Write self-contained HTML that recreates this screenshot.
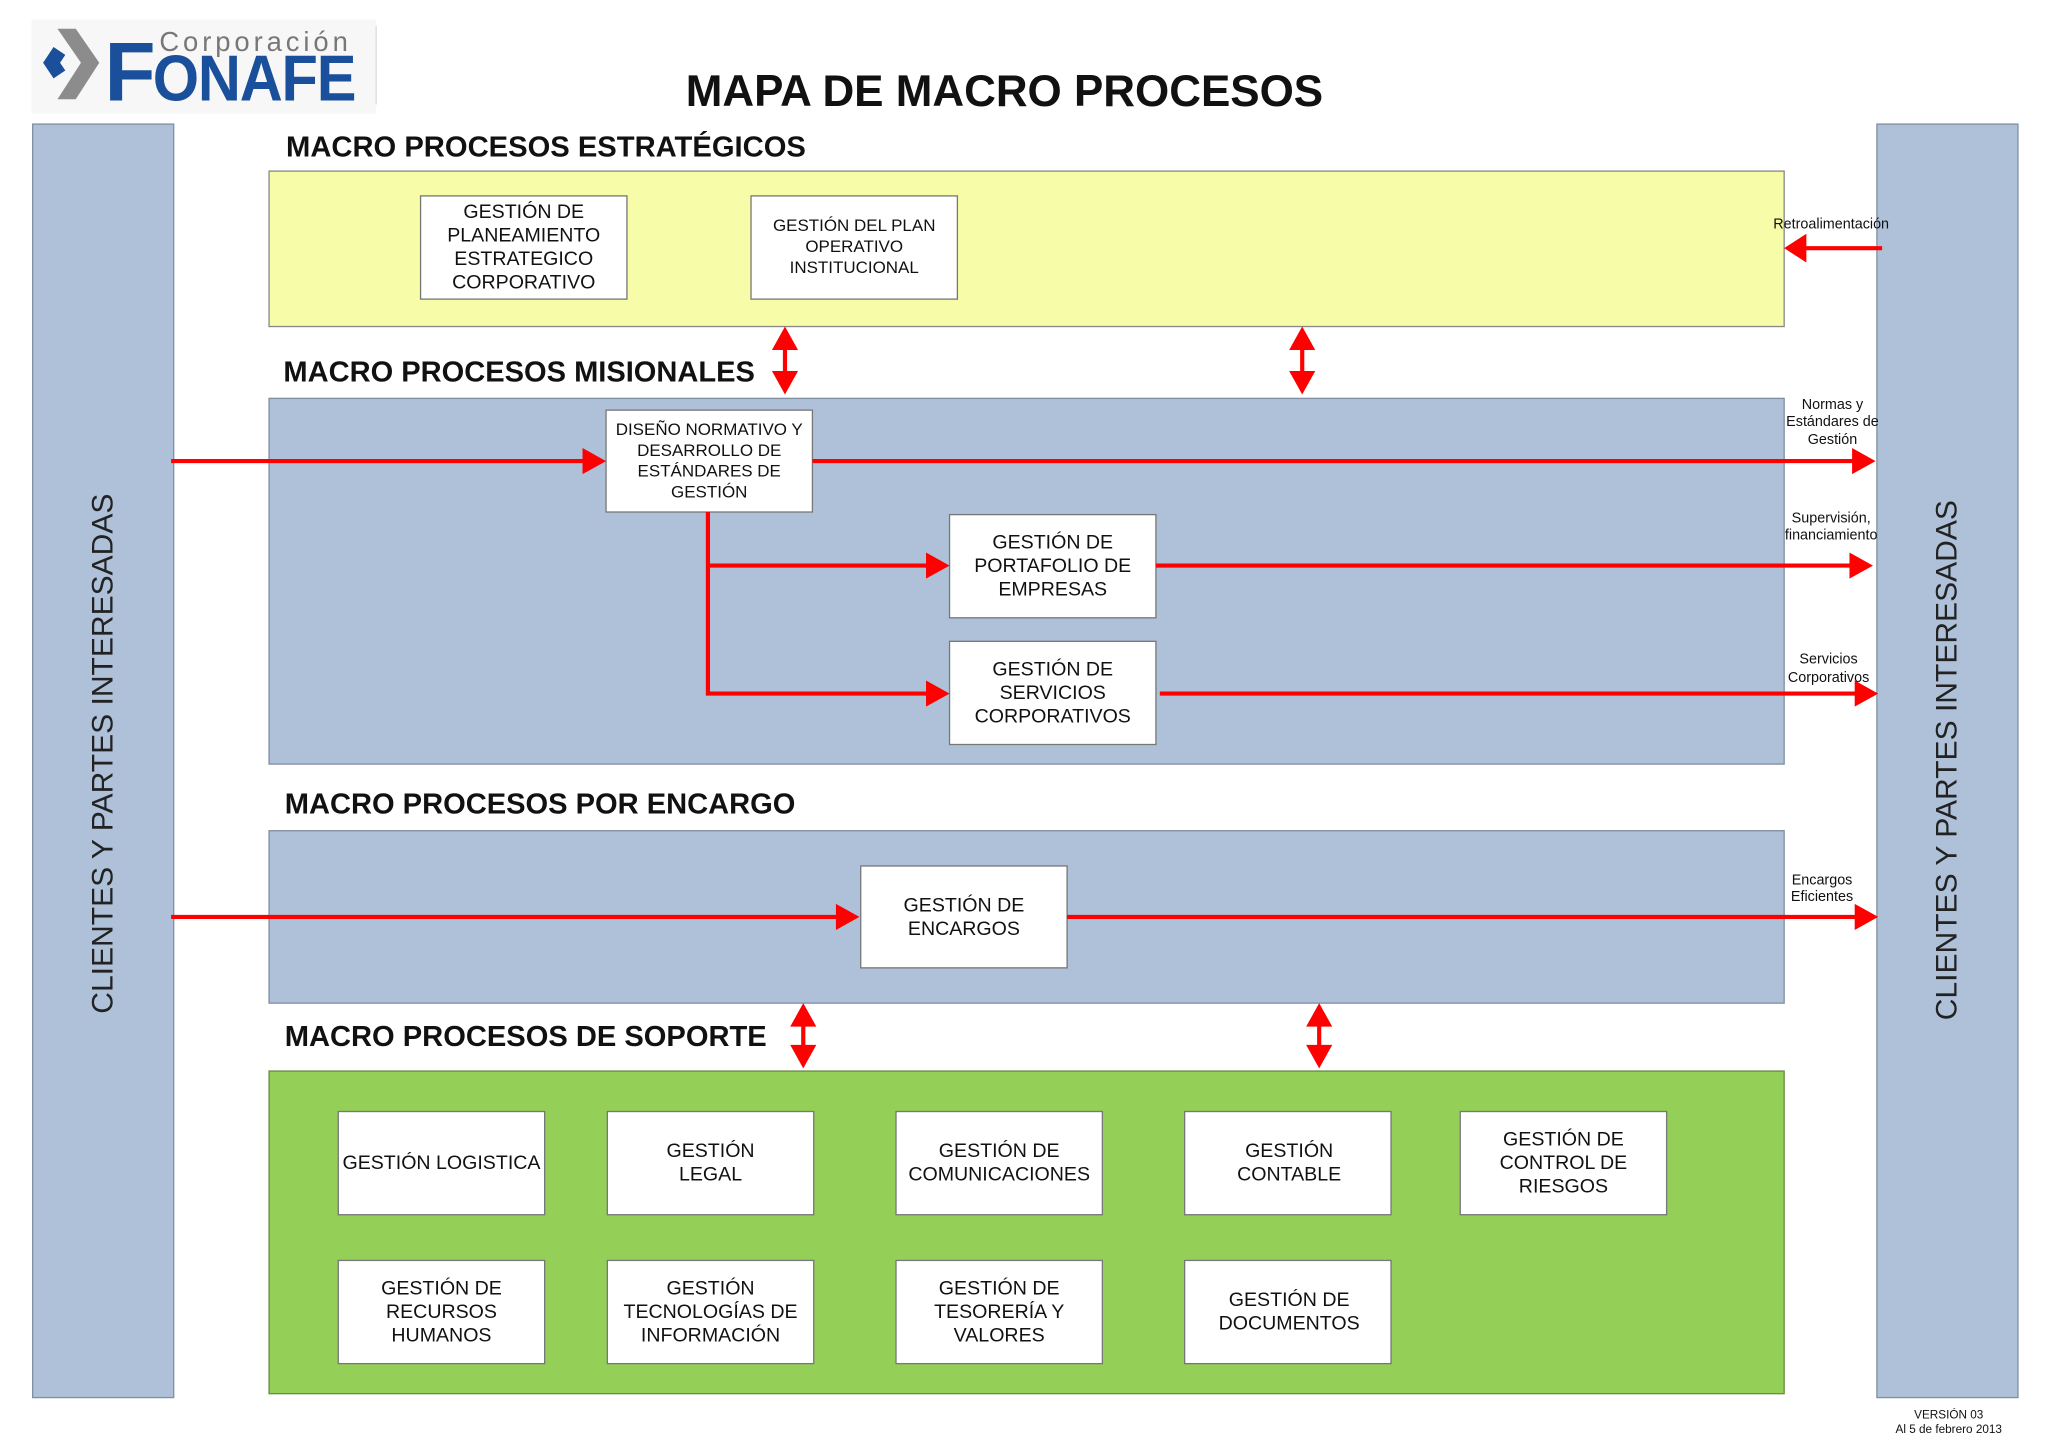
<!DOCTYPE html>
<html><head><meta charset="utf-8"><style>
html,body{margin:0;padding:0;background:#fff;width:2048px;height:1448px;overflow:hidden}
svg{display:block}
text{font-family:"Liberation Sans",Arial,sans-serif;fill:#111}
.bx{fill:#fff;stroke:#777;stroke-width:1}
.t{font-size:15px;text-anchor:middle}
.s{font-size:11px;text-anchor:middle}
.h{font-size:22px;font-weight:bold}
.ln{stroke:#ff0000;stroke-width:3.2;fill:none}
.ah{fill:#ff0000}
</style></head><body>
<svg width="2048" height="1448" viewBox="0 0 1568 1108.6" preserveAspectRatio="none">
<!-- logo -->
<rect x="24" y="15" width="264" height="72" fill="#f7f7f7"/>
<line x1="288" y1="20" x2="288" y2="80" stroke="#ddd"/>
<polygon points="44,22 58,22 76,48 58,76 44,76 62,48" fill="#8c8c8c"/>
<polygon points="33,48 41,36 50,42 46,48 50,54 41,60" fill="#1a4f9c"/>
<text x="122" y="39" style="font-size:21px;letter-spacing:3px;fill:#777">Corporación</text>
<text x="80" y="77" style="font-size:64px;font-weight:bold;fill:#1a4f9c">F</text>
<text x="117" y="77" style="font-size:50px;font-weight:bold;fill:#1a4f9c;letter-spacing:-1px" textLength="155" lengthAdjust="spacingAndGlyphs">ONAFE</text>
<text x="525" y="81" style="font-size:34px;font-weight:bold" textLength="488" lengthAdjust="spacingAndGlyphs">MAPA DE MACRO PROCESOS</text>

<!-- side panels -->
<rect x="25" y="95" width="108" height="975" fill="#aec1d9" stroke="#8090a0"/>
<rect x="1437" y="95" width="108" height="975" fill="#aec1d9" stroke="#8090a0"/>
<text transform="translate(86,577) rotate(-90)" style="font-size:23px;text-anchor:middle;fill:#222">CLIENTES Y PARTES INTERESADAS</text>
<text transform="translate(1498,582) rotate(-90)" style="font-size:23px;text-anchor:middle;fill:#222">CLIENTES Y PARTES INTERESADAS</text>

<!-- headings -->
<text x="219" y="120" class="h" textLength="398" lengthAdjust="spacingAndGlyphs">MACRO PROCESOS ESTRATÉGICOS</text>
<text x="217" y="292" class="h" textLength="361" lengthAdjust="spacingAndGlyphs">MACRO PROCESOS MISIONALES</text>
<text x="218" y="623" class="h" textLength="391" lengthAdjust="spacingAndGlyphs">MACRO PROCESOS POR ENCARGO</text>
<text x="218" y="801" class="h" textLength="369" lengthAdjust="spacingAndGlyphs">MACRO PROCESOS DE SOPORTE</text>

<!-- areas -->
<rect x="206" y="131" width="1160" height="119" fill="#f6fca7" stroke="#888"/>
<rect x="206" y="305" width="1160" height="280" fill="#aec1d9" stroke="#7f8ea0"/>
<rect x="206" y="636" width="1160" height="132" fill="#aec1d9" stroke="#7f8ea0"/>
<rect x="206" y="820" width="1160" height="247" fill="#94cf57" stroke="#6a8a40"/>

<!-- strategic boxes -->
<rect class="bx" x="322" y="150" width="158" height="79"/>
<text class="t"><tspan x="401" y="167">GESTIÓN DE</tspan><tspan x="401" y="185">PLANEAMIENTO</tspan><tspan x="401" y="203">ESTRATEGICO</tspan><tspan x="401" y="221">CORPORATIVO</tspan></text>
<rect class="bx" x="575" y="150" width="158" height="79"/>
<text class="t" style="font-size:13px"><tspan x="654" y="177">GESTIÓN DEL PLAN</tspan><tspan x="654" y="193">OPERATIVO</tspan><tspan x="654" y="209">INSTITUCIONAL</tspan></text>

<!-- misional boxes -->
<rect class="bx" x="464" y="314" width="158" height="78"/>
<text class="t" style="font-size:13px"><tspan x="543" y="333">DISEÑO NORMATIVO Y</tspan><tspan x="543" y="349">DESARROLLO DE</tspan><tspan x="543" y="365">ESTÁNDARES DE</tspan><tspan x="543" y="381">GESTIÓN</tspan></text>
<rect class="bx" x="727" y="394" width="158" height="79"/>
<text class="t"><tspan x="806" y="420">GESTIÓN DE</tspan><tspan x="806" y="438">PORTAFOLIO DE</tspan><tspan x="806" y="456">EMPRESAS</tspan></text>
<rect class="bx" x="727" y="491" width="158" height="79"/>
<text class="t"><tspan x="806" y="517">GESTIÓN DE</tspan><tspan x="806" y="535">SERVICIOS</tspan><tspan x="806" y="553">CORPORATIVOS</tspan></text>

<!-- encargo box -->
<rect class="bx" x="659" y="663" width="158" height="78"/>
<text class="t"><tspan x="738" y="698">GESTIÓN DE</tspan><tspan x="738" y="716">ENCARGOS</tspan></text>

<!-- support boxes -->
<rect class="bx" x="259" y="851" width="158" height="79"/>
<text class="t" x="338" y="895">GESTIÓN LOGISTICA</text>
<rect class="bx" x="465" y="851" width="158" height="79"/>
<text class="t"><tspan x="544" y="886">GESTIÓN</tspan><tspan x="544" y="904">LEGAL</tspan></text>
<rect class="bx" x="686" y="851" width="158" height="79"/>
<text class="t"><tspan x="765" y="886">GESTIÓN DE</tspan><tspan x="765" y="904">COMUNICACIONES</tspan></text>
<rect class="bx" x="907" y="851" width="158" height="79"/>
<text class="t"><tspan x="987" y="886">GESTIÓN</tspan><tspan x="987" y="904">CONTABLE</tspan></text>
<rect class="bx" x="1118" y="851" width="158" height="79"/>
<text class="t"><tspan x="1197" y="877">GESTIÓN DE</tspan><tspan x="1197" y="895">CONTROL DE</tspan><tspan x="1197" y="913">RIESGOS</tspan></text>
<rect class="bx" x="259" y="965" width="158" height="79"/>
<text class="t"><tspan x="338" y="991">GESTIÓN DE</tspan><tspan x="338" y="1009">RECURSOS</tspan><tspan x="338" y="1027">HUMANOS</tspan></text>
<rect class="bx" x="465" y="965" width="158" height="79"/>
<text class="t"><tspan x="544" y="991">GESTIÓN</tspan><tspan x="544" y="1009">TECNOLOGÍAS DE</tspan><tspan x="544" y="1027">INFORMACIÓN</tspan></text>
<rect class="bx" x="686" y="965" width="158" height="79"/>
<text class="t"><tspan x="765" y="991">GESTIÓN DE</tspan><tspan x="765" y="1009">TESORERÍA Y</tspan><tspan x="765" y="1027">VALORES</tspan></text>
<rect class="bx" x="907" y="965" width="158" height="79"/>
<text class="t"><tspan x="987" y="1000">GESTIÓN DE</tspan><tspan x="987" y="1018">DOCUMENTOS</tspan></text>

<!-- arrows -->
<line class="ln" x1="131" y1="353" x2="448" y2="353"/><polygon class="ah" points="446,343 464,353 446,363"/>
<line class="ln" x1="622" y1="353" x2="1420" y2="353"/><polygon class="ah" points="1418,343 1436,353 1418,363"/>
<polyline class="ln" points="542,392 542,531 712,531"/>
<line class="ln" x1="542" y1="433" x2="712" y2="433"/>
<polygon class="ah" points="709,423 727,433 709,443"/>
<polygon class="ah" points="709,521 727,531 709,541"/>
<line class="ln" x1="885" y1="433" x2="1418" y2="433"/><polygon class="ah" points="1416,423 1434,433 1416,443"/>
<line class="ln" x1="888" y1="531" x2="1422" y2="531"/><polygon class="ah" points="1420,521 1438,531 1420,541"/>
<line class="ln" x1="131" y1="702" x2="642" y2="702"/><polygon class="ah" points="640,692 658,702 640,712"/>
<line class="ln" x1="817" y1="702" x2="1422" y2="702"/><polygon class="ah" points="1420,692 1438,702 1420,712"/>
<line class="ln" x1="1441" y1="190" x2="1380" y2="190"/><polygon class="ah" points="1383,179 1366,190 1383,201"/>
<g>
<line class="ln" x1="601" y1="262" x2="601" y2="290"/><polygon class="ah" points="591,268 601,250 611,268"/><polygon class="ah" points="591,284 601,302 611,284"/>
<line class="ln" x1="997" y1="262" x2="997" y2="290"/><polygon class="ah" points="987,268 997,250 1007,268"/><polygon class="ah" points="987,284 997,302 1007,284"/>
<line class="ln" x1="615" y1="780" x2="615" y2="806"/><polygon class="ah" points="605,786 615,768 625,786"/><polygon class="ah" points="605,800 615,818 625,800"/>
<line class="ln" x1="1010" y1="780" x2="1010" y2="806"/><polygon class="ah" points="1000,786 1010,768 1020,786"/><polygon class="ah" points="1000,800 1010,818 1020,800"/>
</g>

<!-- labels -->
<text class="s" x="1402" y="175">Retroalimentación</text>
<text class="s"><tspan x="1403" y="313">Normas y</tspan><tspan x="1403" y="326">Estándares de</tspan><tspan x="1403" y="340">Gestión</tspan></text>
<text class="s"><tspan x="1402" y="400">Supervisión,</tspan><tspan x="1402" y="413">financiamiento</tspan></text>
<text class="s"><tspan x="1400" y="508">Servicios</tspan><tspan x="1400" y="522">Corporativos</tspan></text>
<text class="s"><tspan x="1395" y="677">Encargos</tspan><tspan x="1395" y="690">Eficientes</tspan></text>
<text style="font-size:9px;text-anchor:middle"><tspan x="1492" y="1086">VERSIÓN 03</tspan><tspan x="1492" y="1097">Al 5 de febrero 2013</tspan></text>
</svg>
</body></html>
